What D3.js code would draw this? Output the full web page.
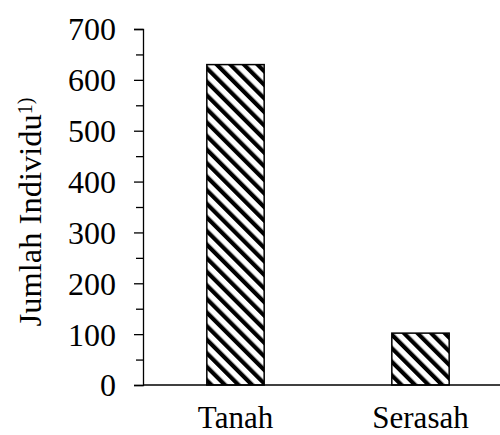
<!DOCTYPE html>
<html>
<head>
<meta charset="utf-8">
<script src="https://cdn.jsdelivr.net/npm/d3@7"></script>
<style>
body { margin: 0; background: #fff; }
text { font-family: "Liberation Serif", "Times New Roman", serif; fill: #000; }
</style>
</head>
<body>
<svg id="chart" width="500" height="435"></svg>
<script>
// Data
var categories = ["Tanah", "Serasah"];
var values = [630, 102];
var yTicks = [0, 100, 200, 300, 400, 500, 600, 700];
var yMinorTicks = [50, 150, 250, 350, 450, 550, 650];

// Layout
var plotLeft = 143, plotRight = 513, plotTop = 29, plotBottom = 385;

var svg = d3.select("#chart");

// hatch pattern
var pat = svg.append("defs").append("pattern")
    .attr("id", "hatch")
    .attr("patternUnits", "userSpaceOnUse")
    .attr("width", 9.6)
    .attr("height", 9.6)
    .attr("patternTransform", "rotate(-45)");
pat.append("rect").attr("width", 9.6).attr("height", 9.6).attr("fill", "#fff");
pat.append("rect").attr("x", 0).attr("y", 0).attr("width", 4.2).attr("height", 9.6).attr("fill", "#000");

var x = d3.scaleBand().domain(categories).range([plotLeft, plotRight]).paddingInner(0.69).paddingOuter(0.345);
var y = d3.scaleLinear().domain([0, 700]).range([plotBottom, plotTop]);

// bars
svg.selectAll(".bar")
    .data(values)
    .enter()
    .append("rect")
    .attr("class", "bar")
    .attr("x", function(d, i){ return x(categories[i]); })
    .attr("y", function(d){ return y(d); })
    .attr("width", x.bandwidth())
    .attr("height", function(d){ return plotBottom - y(d); })
    .attr("fill", "url(#hatch)")
    .attr("stroke", "#000")
    .attr("stroke-width", 1.5);

// y axis
var yAxis = d3.axisLeft(y).tickValues(yTicks).tickSize(9).tickPadding(18);
var gy = svg.append("g").attr("transform", "translate(" + plotLeft + ",0)").call(yAxis);
gy.selectAll("text").style("font-size", "32px").attr("dy", "0.34em");
gy.selectAll("line").attr("stroke-width", 1.3);
gy.select(".domain").attr("stroke-width", 1.3);

var yMinor = d3.axisLeft(y).tickValues(yMinorTicks).tickSize(7).tickFormat("");
var gm = svg.append("g").attr("transform", "translate(" + plotLeft + ",0)").call(yMinor);
gm.select(".domain").remove();
gm.selectAll("line").attr("stroke-width", 1.3);

// x axis
var xAxis = d3.axisBottom(x).tickSize(0).tickPadding(21);
var gx = svg.append("g").attr("transform", "translate(0," + plotBottom + ")").call(xAxis);
gx.select(".domain").attr("d", "M" + plotLeft + ",0H500").attr("stroke-width", 1.3);
gx.selectAll("text").style("font-size", "31px").attr("dy", "0.71em");

// y title
var title = svg.append("text")
    .attr("transform", "translate(41,212) rotate(-90)")
    .attr("text-anchor", "middle")
    .style("font-size", "32.5px");
title.append("tspan").text("Jumlah Individu");
title.append("tspan").attr("dy", "-0.45em").style("font-size", "20px").text("1)");
</script>
</body>
</html>
